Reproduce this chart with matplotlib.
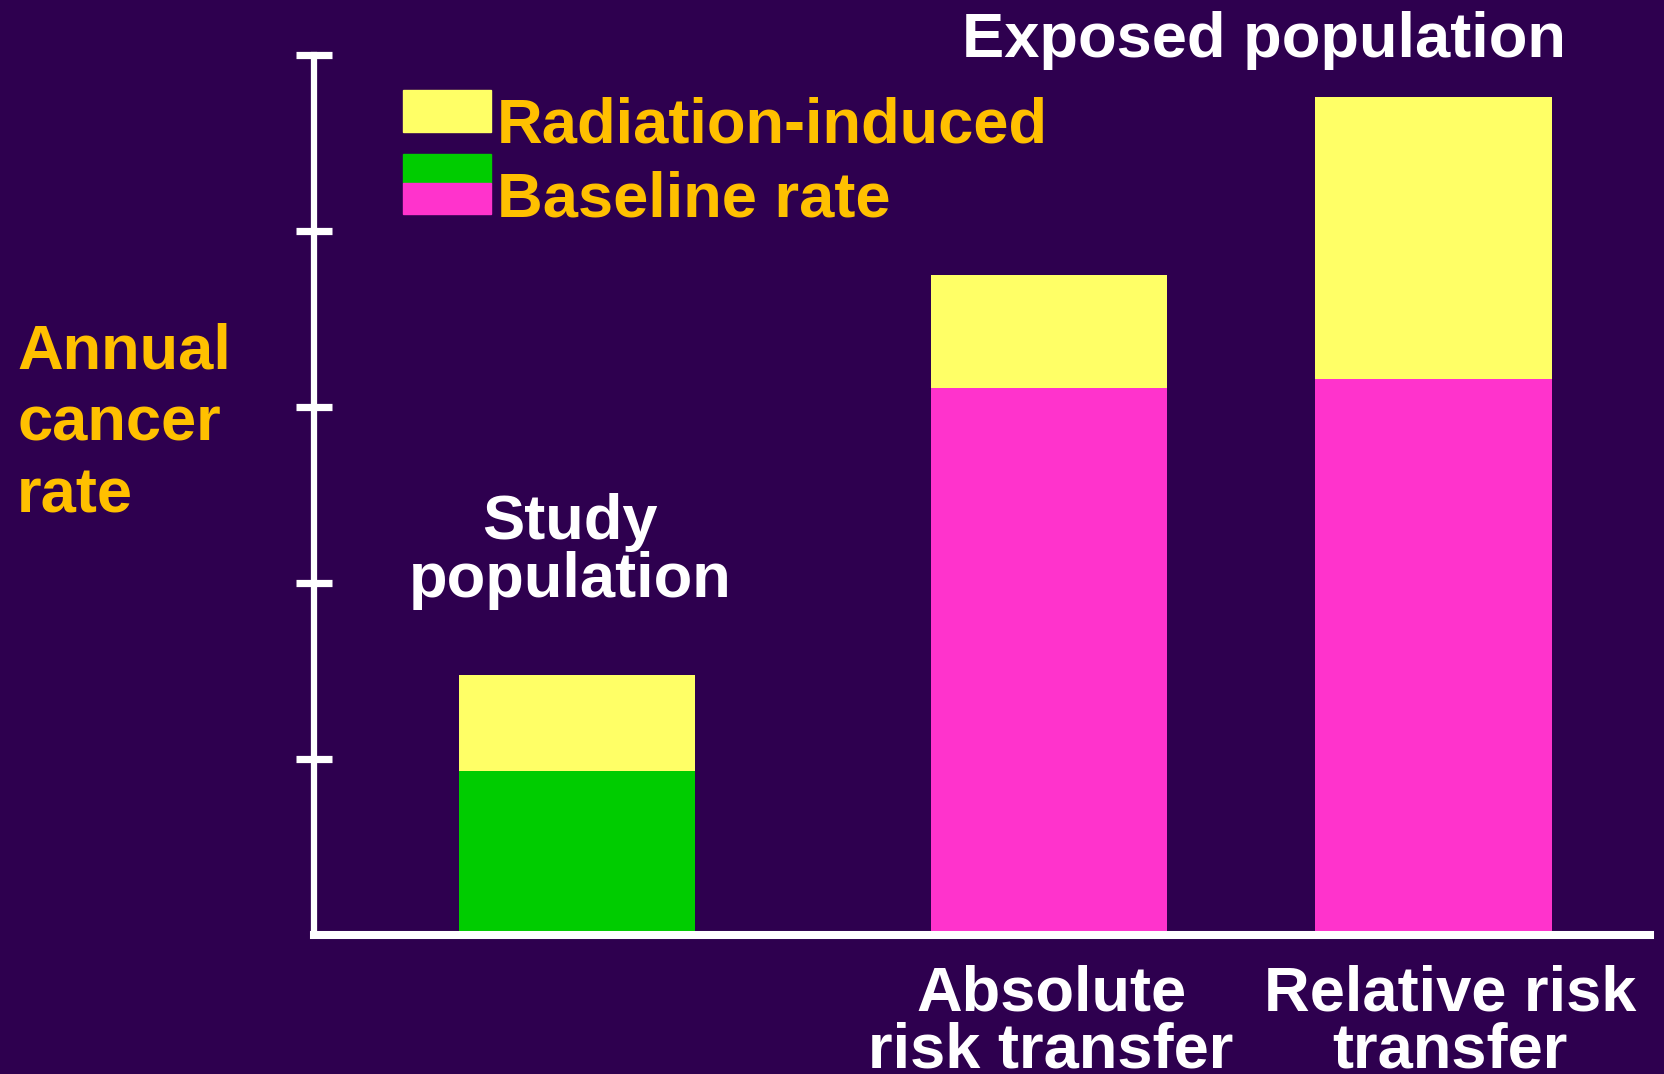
import matplotlib.pyplot as plt
from matplotlib.patches import Rectangle

# bar values (arbitrary rate units, axis runs 0..5)
groups = ['Study population', 'Absolute risk transfer', 'Relative risk transfer']
baseline = [0.93, 3.11, 3.16]
radiation = [0.55, 0.64, 1.60]
base_colors = ['#00CC00', '#FF33CC', '#FF33CC']

BG = '#2E004F'
GOLD = '#FFC000'
YELLOW = '#FFFF66'
FONT = 'Liberation Sans'

fig = plt.figure(figsize=(16.64, 10.74), dpi=100, facecolor=BG)
ax = fig.add_axes([0.1887, 0.1294, 0.8029, 0.8194], facecolor=BG)

x_pos = [1.97, 5.50, 8.38]
width = 1.77
ax.bar(x_pos, baseline, width=width, color=base_colors, zorder=1)
ax.bar(x_pos, radiation, width=width, bottom=baseline, color=YELLOW, zorder=1)

ax.set_xlim(0, 10)
ax.set_ylim(0, 5)
for s in ['top', 'right']:
    ax.spines[s].set_visible(False)
ax.spines['left'].set_color('white')
ax.spines['left'].set_linewidth(4.5)
ax.spines['bottom'].set_color('white')
ax.spines['bottom'].set_linewidth(5.8)
ax.spines['left'].set_zorder(3)
ax.spines['bottom'].set_zorder(3)

ax.set_yticks([1, 2, 3, 4, 5])
ax.set_yticklabels([])
ax.tick_params(axis='y', direction='inout', length=26, width=5.2, color='white')
ax.set_xticks([])

# pixel -> figure fraction helpers
def fx(px):
    return px / 1664

def fy(py):
    return 1 - (py + 4) / 1074

# legend drawn by hand: swatches + gold labels
for (x0, y0, x1, y1, c) in [(403, 90, 491, 132, YELLOW),
                            (403, 154, 491, 183, '#00CC00'),
                            (403, 183, 491, 214, '#FF33CC')]:
    fig.patches.append(Rectangle((x0 / 1664, 1 - y1 / 1074), (x1 - x0) / 1664, (y1 - y0) / 1074,
                                 transform=fig.transFigure, color=c, zorder=5))

tkw = dict(fontsize=45.5, fontweight='bold', family=FONT)
fig.text(fx(497), fy(122), 'Radiation-induced', color=GOLD, ha='left', va='center', **tkw)
fig.text(fx(497), fy(196), 'Baseline rate', color=GOLD, ha='left', va='center', **tkw)

fig.text(fx(1264), fy(37), 'Exposed population', color='white', ha='center', va='center', **tkw)
fig.text(fx(570), fy(518), 'Study', color='white', ha='center', va='center', **tkw)
fig.text(fx(570), fy(576), 'population', color='white', ha='center', va='center', **tkw)

for i, line in enumerate(['Annual', 'cancer', 'rate']):
    fig.text(fx(17), fy(348 + 72 * i), line, color=GOLD, ha='left', va='center', **tkw)

fig.text(fx(1051), fy(990), 'Absolute', color='white', ha='center', va='center', **tkw)
fig.text(fx(1051), fy(1047), 'risk transfer', color='white', ha='center', va='center', **tkw)
fig.text(fx(1450), fy(990), 'Relative risk', color='white', ha='center', va='center', **tkw)
fig.text(fx(1450), fy(1047), 'transfer', color='white', ha='center', va='center', **tkw)

fig.savefig('out.png', dpi=100, facecolor=BG)
